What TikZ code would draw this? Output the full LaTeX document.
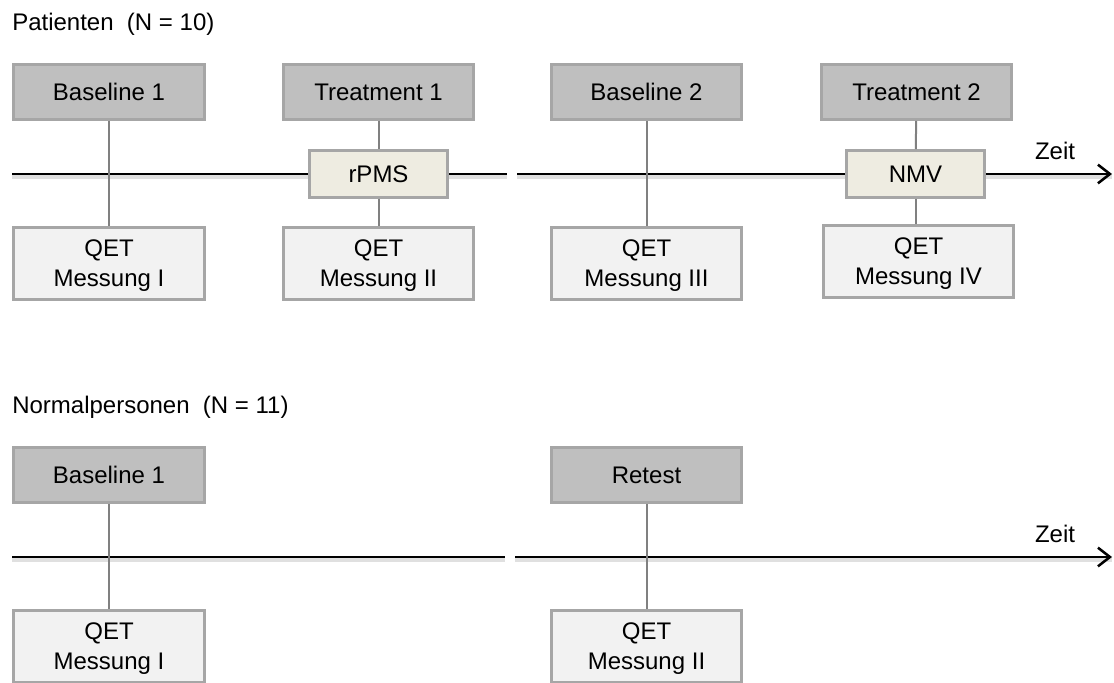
\documentclass[tikz,border=0pt]{standalone}
\usepackage{fontspec}
\setmainfont{Liberation Sans}
\usetikzlibrary{arrows.meta}
\definecolor{boxdark}{HTML}{BFBFBF}
\definecolor{boxlight}{HTML}{F2F2F2}
\definecolor{boxtan}{HTML}{EEECE1}
\definecolor{rimgray}{HTML}{A6A6A6}
\definecolor{stemgray}{HTML}{808080}
\tikzset{
	phase/.style={draw=rimgray, line width=2.2pt, fill=boxdark, minimum width=143pt, minimum height=41pt, inner sep=0pt, align=center, font=\fontsize{18}{22.5}\selectfont},
	qet/.style={phase, fill=boxlight, minimum height=54pt, text depth=0pt},
	therapy/.style={phase, fill=boxtan, minimum width=104pt, minimum height=35pt},
	stem/.style={draw=stemgray, line width=1.5pt},
	axis/.style={line width=1.9pt},
	axisshade/.style={black!12, line width=3pt},
	caption/.style={anchor=west, inner sep=0pt, font=\fontsize{18}{22}\selectfont},
}

\begin{document}
\begin{tikzpicture}[x=0.75pt, y=-0.75pt]
			%%%%% START %%%%%
			\useasboundingbox (0,0) rectangle (1114,682);
			\def\xa{109}
			\def\xb{378.5}
			\def\xc{646.5}
			\def\xd{916.5}
			\def\gapl{507}
			\def\gapr{517}
			
			% Patienten
			\node[caption] (pat) at (12,24) {Patienten\ \ (N = 10)};
			\def\yt{174}
			
			\node[phase] (pb1) at (\xa,92) {Baseline 1};
			\node[phase] (pt1) at (\xb,92) {Treatment 1};
			\node[phase] (pb2) at (\xc,92) {Baseline 2};
			\node[phase] (pt2) at (\xd,92) {Treatment 2};
			
			\node[qet] (pq1) at (\xa,263.5) {QET\\Messung I};
			\node[qet] (pq2) at (\xb,263.5) {QET\\Messung II};
			\node[qet] (pq3) at (\xc,263.5) {QET\\Messung III};
			\node[qet] (pq4) at (\xd+2,261.5) {QET\\Messung IV};
			
			\coordinate (pstart) at (12,\yt);
			\coordinate (pgapl) at (\gapl,\yt);
			\coordinate (pgapr) at (\gapr,\yt);
			\coordinate (pend) at (1112,\yt);
			
			\draw[axisshade] ([yshift=-2.5pt]pstart) -- ([yshift=-2.5pt]pgapl);
			\draw[axisshade] ([yshift=-2.5pt]pgapr) -- ([yshift=-2.5pt]pend);
			\draw[axis] (pstart) -- (pgapl);
			\draw[axis, -{Straight Barb[length=9pt, width=14pt, line width=1.9pt]}] (pgapr) -- (pend);
			
			\node[therapy] (prp) at (\xb,\yt) {rPMS};
			\node[therapy] (pnm) at (\xd-1,\yt) {NMV};
			\node[caption, anchor=center] (pz) at (1055,151) {Zeit};
			
			\draw[stem] (pb1) -- (pq1);
			\draw[stem] (pt1) -- (prp);
			\draw[stem] (prp) -- (pq2);
			\draw[stem] (pb2) -- (pq3);
			\draw[stem] (pt2) -- (pnm);
			\draw[stem] (pnm) -- (pnm |- pq4.north);
			
			% Normalpersonen
			\node[caption] (nor) at (12,407) {Normalpersonen\ \ (N = 11)};
			\def\yt{557}
			
			\node[phase] (nb1) at (\xa,475) {Baseline 1};
			\node[phase] (nrt) at (\xc,475) {Retest};
			
			\node[qet] (nq1) at (\xa,646.5) {QET\\Messung I};
			\node[qet] (nq2) at (\xc,646.5) {QET\\Messung II};
			
			\coordinate (nstart) at (12,\yt);
			\coordinate (ngapl) at (\gapl-2,\yt);
			\coordinate (ngapr) at (\gapr-2,\yt);
			\coordinate (nend) at (1112,\yt);
			
			\draw[axisshade] ([yshift=-2.5pt]nstart) -- ([yshift=-2.5pt]ngapl);
			\draw[axisshade] ([yshift=-2.5pt]ngapr) -- ([yshift=-2.5pt]nend);
			\draw[axis] (nstart) -- (ngapl);
			\draw[axis, -{Straight Barb[length=9pt, width=14pt, line width=1.9pt]}] (ngapr) -- (nend);
			\node[caption, anchor=center] (nz) at (1055,534) {Zeit};
			
			\draw[stem] (nb1) -- (nq1);
			\draw[stem] (nrt) -- (nq2);
			%%%%% END %%%%%
\end{tikzpicture}
\end{document}
